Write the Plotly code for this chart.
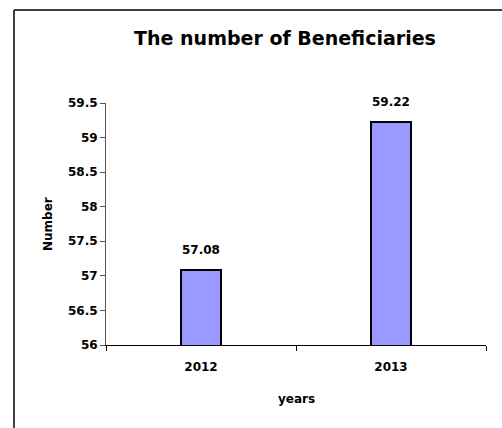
import plotly.graph_objects as go

years = ["2012", "2013"]
beneficiaries = [57.08, 59.22]
y_ticks = [56, 56.5, 57, 57.5, 58, 58.5, 59, 59.5]
y_tick_labels = ["56", "56.5", "57", "57.5", "58", "58.5", "59", "59.5"]

FONT = "DejaVu Sans"
W, H = 502, 428
L, R, T, B = 106, 16, 103, 83
PW, PH = W - L - R, H - T - B


def px_x(p):
    return (p - L) / PW


def px_y(p):
    return (H - B - p) / PH


fig = go.Figure()
fig.add_trace(go.Bar(
    x=years, y=beneficiaries, width=0.21,
    marker=dict(color="#9999FF", line=dict(color="black", width=2)),
    hoverinfo="x+y",
))

annotations = []
for i, (yr, v) in enumerate(zip(years, beneficiaries)):
    annotations.append(dict(
        x=i, y=v, xref="x", yref="y", text=f"{v:.2f}", showarrow=False,
        yanchor="bottom", yshift=11,
        font=dict(family=FONT, size=12, color="black", weight="bold"),
    ))
annotations.append(dict(
    x=px_x(48), y=0.5, xref="paper", yref="paper", text="Number", showarrow=False,
    textangle=-90, xanchor="center", yanchor="middle",
    font=dict(family=FONT, size=12, color="black", weight="bold"),
))
annotations.append(dict(
    x=0.5, y=px_y(399), xref="paper", yref="paper", text="years", showarrow=False,
    xanchor="center", yanchor="middle",
    font=dict(family=FONT, size=12, color="black", weight="bold"),
))

shapes = [
    dict(type="line", xref="paper", yref="paper",
         x0=px_x(14), x1=px_x(14), y0=px_y(10), y1=px_y(H + 5),
         line=dict(color="black", width=1.5)),
    dict(type="line", xref="paper", yref="paper",
         x0=px_x(14), x1=px_x(W + 5), y0=px_y(10), y1=px_y(10),
         line=dict(color="black", width=1.5)),
]

fig.update_layout(
    width=W, height=H,
    margin=dict(l=L, r=R, t=T, b=B, autoexpand=False),
    paper_bgcolor="white", plot_bgcolor="white",
    showlegend=False,
    title=dict(
        text="The number of Beneficiaries",
        x=285 / W, xanchor="center", xref="container",
        y=1 - 38 / H, yanchor="middle", yref="container",
        font=dict(family=FONT, size=19, color="black", weight="bold"),
    ),
    annotations=annotations,
    shapes=shapes,
    bargap=0,
)
fig.update_xaxes(
    type="category", range=[-0.5, 1.5],
    showline=True, linecolor="black", linewidth=1,
    ticks="outside", ticklen=5, tickcolor="black", tickwidth=1,
    tickson="boundaries", showgrid=False, zeroline=False,
    ticklabelstandoff=11, automargin=False,
    tickfont=dict(family=FONT, size=12, color="black", weight="bold"),
)
fig.update_yaxes(
    range=[56, 59.5], tickvals=y_ticks, ticktext=y_tick_labels,
    showline=True, linecolor="#555555", linewidth=1,
    ticks="outside", ticklen=5, tickcolor="#555555", tickwidth=1,
    showgrid=False, zeroline=False, automargin=False,
    tickfont=dict(family=FONT, size=12, color="black", weight="bold"),
)

fig.write_html("out.html", config={"displayModeBar": False},
               post_script="document.body.style.margin='0';")
